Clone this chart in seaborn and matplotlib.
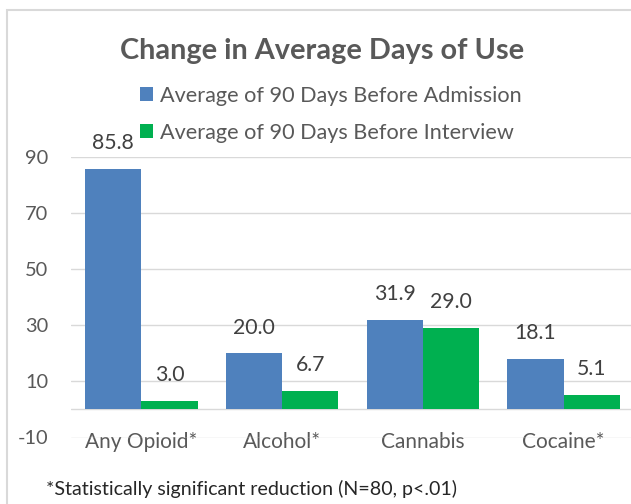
import matplotlib
matplotlib.use("Agg")
import matplotlib.pyplot as plt
from matplotlib.patches import Rectangle
import seaborn as sns
import pandas as pd

# ---- data ----
categories = ["Any Opioid*", "Alcohol*", "Cannabis", "Cocaine*"]
series_names = ["Average of 90 Days Before Admission", "Average of 90 Days Before Interview"]
before_admission = [85.8, 20.0, 31.9, 18.1]
before_interview = [3.0, 6.7, 29.0, 5.1]
y_ticks = [-10, 10, 30, 50, 70, 90]
title_text = "Change in Average Days of Use"
footnote_text = "*Statistically significant reduction (N=80, p<.01)"

df = pd.DataFrame({
    "category": categories * 2,
    "series": [series_names[0]] * len(categories) + [series_names[1]] * len(categories),
    "value": before_admission + before_interview,
})

W, H, DPI = 631, 504, 100
sns.set_theme(style="white")
FAMILY = ["Lato", "DejaVu Sans"]
plt.rcParams["font.family"] = FAMILY

BLUE = "#4F81BD"
GREEN = "#00B050"
GRID = "#D9D9D9"
TXT = "#595959"
VAL = "#404040"

fig = plt.figure(figsize=(W / DPI, H / DPI), dpi=DPI)
renderer = fig.canvas.get_renderer()


def fit_size(s, target_px, weight="normal"):
    t = fig.text(0, 0, s, fontsize=10, fontweight=weight)
    w = t.get_window_extent(renderer).width
    t.remove()
    return 10 * target_px / w


fs_title = fit_size(title_text, 405, "bold")
fs_leg = fit_size(series_names[0], 362)
fs_foot = fit_size(footnote_text, 410)
fs_cat = fit_size("Cocaine*", 83)
fs_tick = fit_size("90", 23)
fs_val = fit_size("85.8", 42)

ax = fig.add_axes([71 / W, (H - 437.5) / H, 563 / W, 280.5 / H])

sns.barplot(data=df, x="category", y="value", hue="series",
            palette=[BLUE, GREEN], saturation=1, width=0.8,
            edgecolor="none", linewidth=0, ax=ax, zorder=3)

ax.set_ylim(-10, 90)
ax.set_xlim(-0.5, 3.5)
ax.set_yticks(y_ticks)
ax.set_yticklabels([str(v) for v in y_ticks], fontsize=fs_tick, color=TXT)
ax.set_xticks(range(len(categories)))
ax.set_xticklabels(categories, fontsize=fs_cat, color=TXT, va="center")
ax.tick_params(axis="y", length=0, pad=16.5)
ax.tick_params(axis="x", length=0, pad=3.5)
ax.set_xlabel("")
ax.set_ylabel("")
for s in ax.spines.values():
    s.set_visible(False)
ax.yaxis.grid(True, color=GRID, linewidth=1.0, zorder=0)
ax.set_axisbelow(True)
ax.axhline(0, color=GRID, linewidth=1.0, zorder=1)

# value labels
for cont in ax.containers:
    for bar in cont:
        h = bar.get_height()
        ax.annotate(f"{h:.1f}", (bar.get_x() + bar.get_width() / 2, h),
                    xytext=(0, 18.5), textcoords="offset points",
                    ha="center", va="center", fontsize=fs_val, color=VAL,
                    annotation_clip=False, zorder=5)

# legend
sns.move_legend(ax, loc="center left",
                bbox_to_anchor=(140 / W, (H - 114.5) / H),
                bbox_transform=fig.transFigure, title=None, frameon=False,
                fontsize=fs_leg, handlelength=0.62, handleheight=0.62,
                handletextpad=0.3, labelspacing=0.78, borderpad=0,
                borderaxespad=0)
for t in ax.get_legend().get_texts():
    t.set_color(TXT)

# title and footnote
fig.text(322 / W, (H - 51) / H, title_text, ha="center", va="center",
         fontsize=fs_title, fontweight="bold", color=TXT)
fig.text(46 / W, (H - 489) / H, footnote_text, ha="left", va="center",
         fontsize=fs_foot, color="#262626")

# chart border
fig.patches.append(Rectangle((7 / W, -0.1), 1.2, (H - 10) / H + 0.1,
                             transform=fig.transFigure, fill=False,
                             edgecolor=GRID, linewidth=1.5, zorder=0))

fig.savefig("out.png", dpi=DPI)
